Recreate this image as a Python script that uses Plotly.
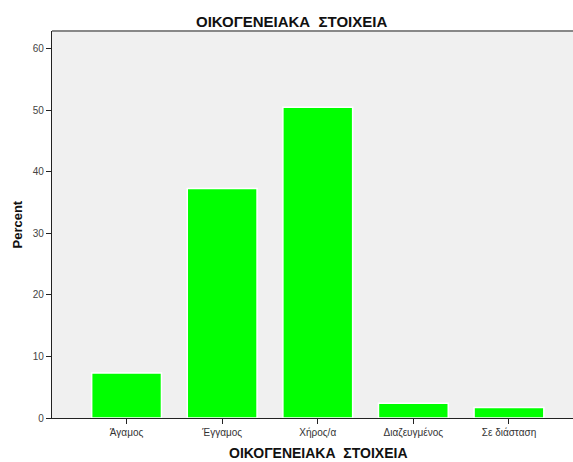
import plotly.graph_objects as go

categories = ["Άγαμος", "Έγγαμος", "Χήρος/α", "Διαζευγμένος", "Σε διάσταση"]
percent = [7.3, 37.3, 50.5, 2.4, 1.7]
y_ticks = [0, 10, 20, 30, 40, 50, 60]
title_text = "ΟΙΚΟΓΕΝΕΙΑΚΑ  ΣΤΟΙΧΕΙΑ"

W, H = 573, 462
L, R, T, B = 52, 0, 31, 44
PW, PH = W - L - R, H - T - B

fig = go.Figure(go.Bar(
    x=categories, y=percent,
    marker=dict(color="#00ff00", line=dict(color="white", width=1.5)),
    width=0.73,
))

font = "Liberation Sans, Arial, sans-serif"
fig.update_layout(
    width=W, height=H,
    margin=dict(l=L, r=R, t=T, b=B),
    paper_bgcolor="white", plot_bgcolor="#f0f0f0",
    showlegend=False,
    font=dict(family=font, size=10, color="#222"),
    xaxis=dict(
        range=[-0.78, 4.67], showgrid=False, zeroline=False,
        showline=True, linecolor="#222", linewidth=1.2,
        ticks="outside", ticklen=5, tickcolor="#222",
        tickfont=dict(size=10, color="#333"),
        fixedrange=True,
    ),
    yaxis=dict(
        range=[0, 62.9], tickvals=y_ticks, showgrid=False, zeroline=False,
        showline=True, linecolor="#222", linewidth=1.2,
        ticks="outside", ticklen=5, tickcolor="#222",
        tickfont=dict(size=10, color="#444"),
        fixedrange=True,
    ),
    shapes=[dict(type="line", xref="paper", yref="paper", x0=0, x1=1, y0=1, y1=1,
                 line=dict(color="#888", width=2))],
    annotations=[
        dict(text="<b>" + title_text + "</b>", xref="paper", yref="paper",
             x=(291 - L) / PW, y=1 + 10 / PH, yanchor="middle", showarrow=False,
             font=dict(size=15, color="#111")),
        dict(text="<b>" + title_text + "</b>", xref="paper", yref="paper",
             x=(318 - L) / PW, y=-35 / PH, yanchor="middle", showarrow=False,
             font=dict(size=14, color="#111")),
        dict(text="<b>Percent</b>", xref="paper", yref="paper",
             x=-35 / PW, y=0.5, xanchor="center", yanchor="middle",
             textangle=-90, showarrow=False, font=dict(size=13, color="#111")),
    ],
)

fig.write_html("out.html", config={"displayModeBar": False},
               post_script="document.body.style.margin='0';document.body.style.overflow='hidden';")
